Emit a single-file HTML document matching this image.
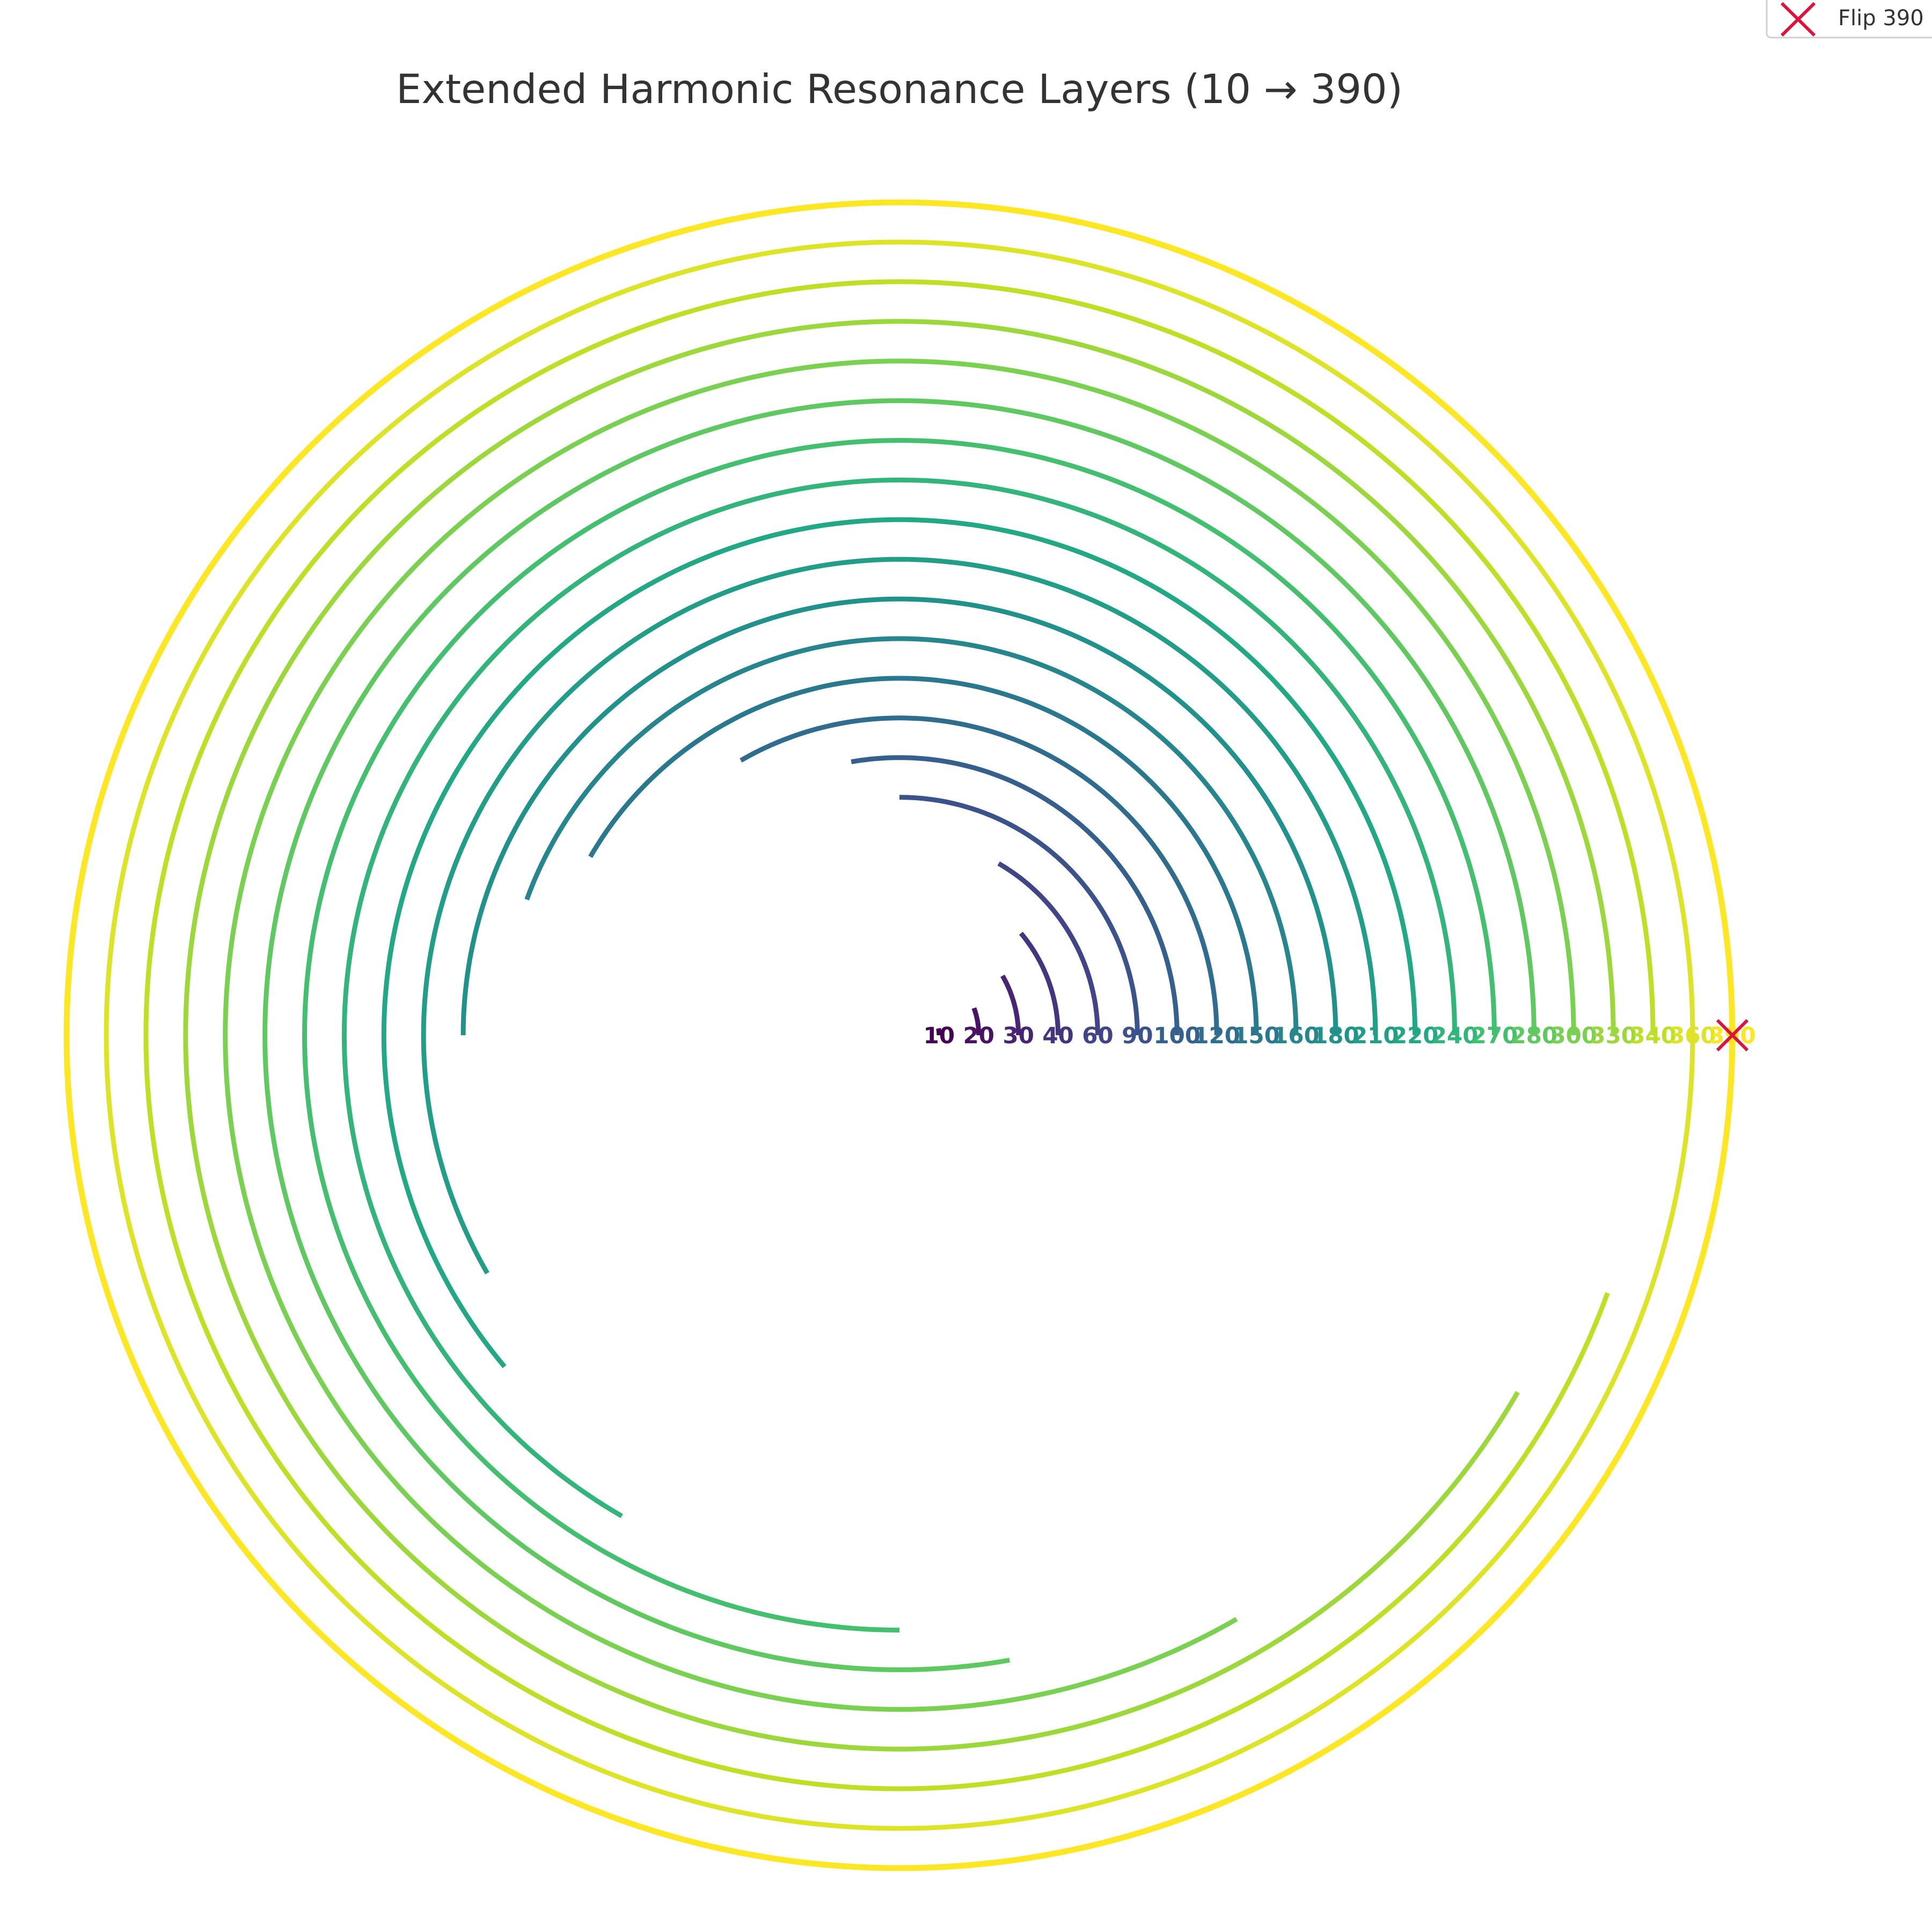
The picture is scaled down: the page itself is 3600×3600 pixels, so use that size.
<!DOCTYPE html>
<html><head><meta charset="utf-8"><style>body{margin:0;background:#fff}svg{display:block}</style></head>
<body>
<svg id="chart" width="3600" height="3600" viewBox="0 0 3600 3600" xmlns="http://www.w3.org/2000/svg">
<rect width="3600" height="3600" fill="#fff"/>
<text x="1676" y="192" text-anchor="middle" font-family="DejaVu Sans, Liberation Sans, sans-serif" font-size="75" fill="#333">Extended Harmonic Resonance Layers (10 → 390)</text>
<g id="arcs"></g>
<g id="labels"></g>
<g stroke="#dc143c" stroke-width="6">
<line x1="3200" y1="1901" x2="3256" y2="1957"/><line x1="3256" y1="1901" x2="3200" y2="1957"/></g>
<g>
<rect x="3292" y="-10" width="330" height="80" rx="8" fill="#fff" stroke="#d0d0d0" stroke-width="3"/>
<g stroke="#dc143c" stroke-width="6"><line x1="3320" y1="6" x2="3381" y2="66"/><line x1="3381" y1="6" x2="3320" y2="66"/></g>
<text x="3425" y="47" font-family="DejaVu Sans, Liberation Sans, sans-serif" font-size="40" fill="#333">Flip 390</text>
</g>
</svg>
<script>
const values = [10,20,30,40,60,90,100,120,150,160,180,210,220,240,270,280,300,330,340,360,390];
const labels = ["10","20","30","40","60","90","100","120","150","160","180","210","220","240","270","280","300","330","340","360","390"];
const cx = 1676, cy = 1929, step = 73.9;
const NS = "http://www.w3.org/2000/svg";
const vir = [[68,1,84],[72,36,117],[65,68,135],[53,95,141],[42,120,142],[33,145,140],[34,168,132],[68,191,112],[122,209,81],[189,223,38],[253,231,37]];
function color(t){t=Math.max(0,Math.min(1,t));const p=t*(vir.length-1),i=Math.min(vir.length-2,Math.floor(p)),f=p-i;const c=vir[i].map((v,j)=>Math.round(v+(vir[i+1][j]-v)*f));return `rgb(${c.join(',')})`;}
function rScale(k){return (k+1)*step;}
const arcs=document.getElementById('arcs'), lab=document.getElementById('labels');
values.forEach((v,k)=>{
  const r=rScale(k), col=color(k/(values.length-1));
  const ang=Math.min(v,360);
  let d='';
  const n=Math.max(8,Math.ceil(ang));
  for(let i=0;i<=n;i++){const a=ang*i/n*Math.PI/180;d+=(i?'L':'M')+(cx+r*Math.cos(a)).toFixed(1)+' '+(cy-r*Math.sin(a)).toFixed(1);}
  const p=document.createElementNS(NS,'path');
  p.setAttribute('d',d);p.setAttribute('fill','none');p.setAttribute('stroke',col);
  p.setAttribute('stroke-width',k===values.length-1?11:9);
  
  
  arcs.appendChild(p);
  const t=document.createElementNS(NS,'text');
  t.setAttribute('x',cx+r);t.setAttribute('y',cy+15);t.setAttribute('text-anchor','middle');
  t.setAttribute('font-family','DejaVu Sans, Liberation Sans, sans-serif');t.setAttribute('font-weight','bold');
  t.setAttribute('font-size','42');t.setAttribute('fill',col);
  t.textContent=labels[k];
  
  
  lab.appendChild(t);
});
</script>
</body></html>
